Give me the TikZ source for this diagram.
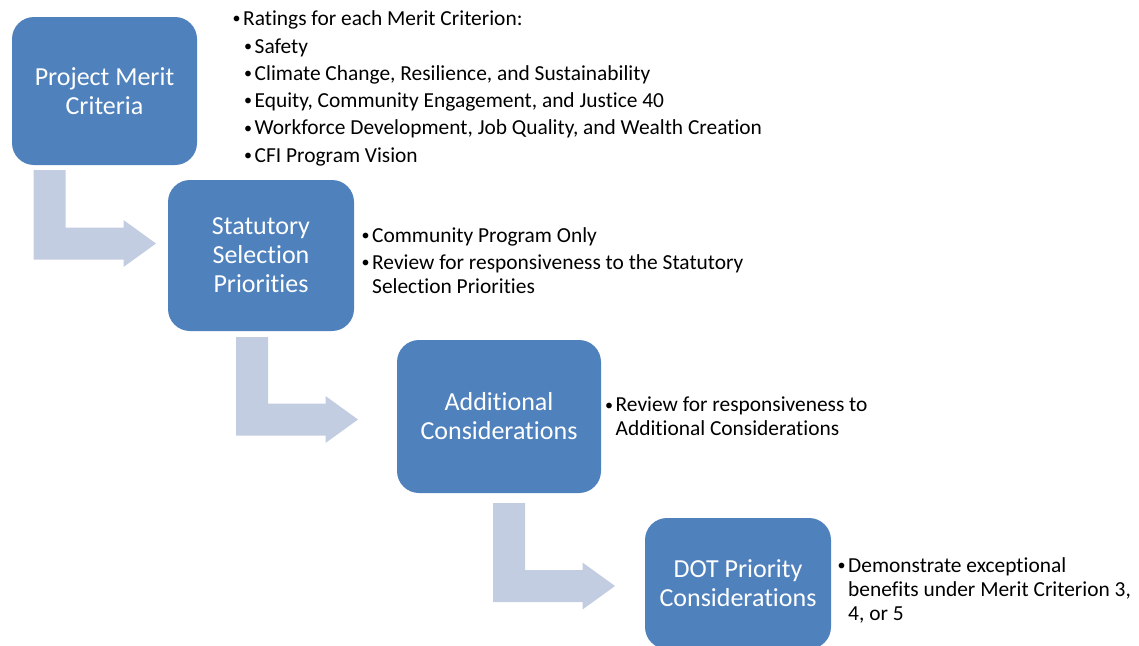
\documentclass[tikz,border=0pt]{standalone}
\usepackage{graphicx}
\usepackage{fontspec}
\setmainfont{Carlito}[Ligatures={NoCommon}]
\usetikzlibrary{calc}
\definecolor{boxblue}{RGB}{79,129,189}
\definecolor{arrowfill}{RGB}{195,205,226}
\tikzset{
  stagebox/.style={fill=boxblue, draw=none, rounded corners=22pt, text=white,
    align=center, inner sep=0pt, font=\fontsize{26}{29}\selectfont},
  itm/.style={anchor=base west, inner sep=0pt, text=black, font=\fontsize{21.4}{24}\selectfont},
  bentarrow/.style={fill=arrowfill, draw=none}
}
\newcommand{\bul}{\makebox[10.5pt][l]{\raisebox{1.2pt}{\scalebox{0.75}{\textbullet}}}}
\newcommand{\bentarr}[2]{%
  \fill[bentarrow] let \p1=(#1), \p2=(#2) in
    (\x1,\y1) -- (\x1+32pt,\y1) -- (\x1+32pt,\y2+16pt) -- (\x2-32.5pt,\y2+16pt)
    -- (\x2-32.5pt,\y2+23.5pt) -- (\x2,\y2) -- (\x2-32.5pt,\y2-23.5pt)
    -- (\x2-32.5pt,\y2-16pt) -- (\x1,\y2-16pt) -- cycle;}
\begin{document}
\begin{tikzpicture}[x=1pt,y=-1pt]
\useasboundingbox (0,0) rectangle (1139,645);
\clip (0,0) rectangle (1139,645);

% stage boxes
\node[stagebox, minimum width=185pt, minimum height=148pt] (b1) at (104.5,91) {Project Merit\\Criteria};
\node[stagebox, minimum width=186pt, minimum height=151pt] (b2) at (261,255.5) {Statutory\\Selection\\Priorities};
\node[stagebox, minimum width=204pt, minimum height=153pt] (b3) at (499,416.5) {Additional\\Considerations};
\node[stagebox, minimum width=186pt, minimum height=131pt] (b4) at (738,583.5) {DOT Priority\\Considerations};

% bent arrows
\coordinate (a1s) at (33.5,170);  \coordinate (a1t) at (156,243.5);
\coordinate (a2s) at (236,337);   \coordinate (a2t) at (358,419.5);
\coordinate (a3s) at (493,503);   \coordinate (a3t) at (615,586);
\bentarr{a1s}{a1t}
\bentarr{a2s}{a2t}
\bentarr{a3s}{a3t}

% text for box 1
\node[itm] (t1) at (232.5,25) {\bul Ratings for each Merit Criterion:};
\node[itm] (t2) at (244,53) {\bul Safety};
\node[itm] (t3) at (244,80) {\bul Climate Change, Resilience, and Sustainability};
\node[itm] (t4) at (244,107) {\bul Equity, Community Engagement, and Justice 40};
\node[itm] (t5) at (244,134.5) {\bul Workforce Development, Job Quality, and Wealth Creation};
\node[itm] (t6) at (244,162) {\bul CFI Program Vision};

% text for box 2
\node[itm] (s1) at (361.5,242) {\bul Community Program Only};
\node[itm] (s2) at (361.5,269) {\bul Review for responsiveness to the Statutory};
\node[itm] (s3) at (372,293) {Selection Priorities};

% text for box 3
\node[itm] (c1) at (605,411.5) {\bul Review for responsiveness to};
\node[itm] (c2) at (615.5,435) {Additional Considerations};

% text for box 4
\node[itm] (d1) at (837.5,572) {\bul Demonstrate exceptional};
\node[itm] (d2) at (848,596.5) {benefits under Merit Criterion 3,};
\node[itm] (d3) at (848,620) {4, or 5};
\end{tikzpicture}
\end{document}
